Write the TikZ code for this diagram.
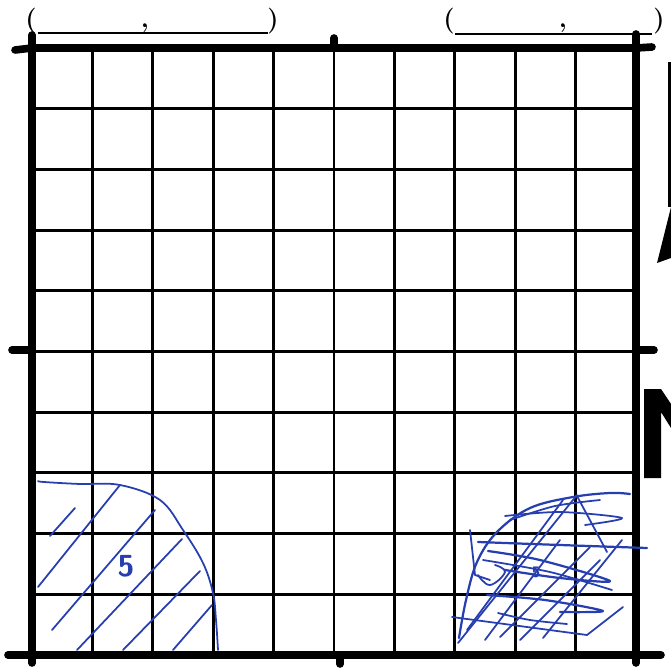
\documentclass[tikz,border=0pt]{standalone}
\usetikzlibrary{positioning}
\definecolor{penblue}{RGB}{38,62,175}
\begin{document}
\begin{tikzpicture}[x=0.03cm, y=-0.03cm,
    frame/.style   ={line width=6.5pt, line cap=round},
    gridline/.style={line width=2.5pt},
    stub/.style    ={line width=6.5pt, line cap=round},
    blank/.style   ={line width=1.8pt},
    paren/.style   ={font=\bfseries\fontsize{22}{24}\selectfont, inner sep=0pt, anchor=base},
    hatch/.style   ={draw=penblue, line width=1.5pt, line cap=round, line join=round},
    digit/.style   ={text=penblue, font=\sffamily, inner sep=0pt},
    logo/.style    ={fill=black, draw=none},
]
\useasboundingbox (0,0) rectangle (671,669);
% corners of the grid
\coordinate (tl) at (32,48);
\coordinate (tr) at (636,48);
\coordinate (bl) at (32,655);
\coordinate (br) at (636,655);
% grid lines
\foreach \i in {1,...,9} {
  \draw[gridline] ({32+60.4*\i},48) -- ({32+60.4*\i},655);
  \draw[gridline] (32,{48+60.7*\i}) -- (636,{48+60.7*\i});
}
\draw[frame] (tl) rectangle (br);
% stubs beyond the frame
\coordinate (tlw) at (15,50);   \coordinate (tln) at (32,35);
\coordinate (tmn) at (334,38);  \coordinate (tm) at (334,48);
\coordinate (trn) at (636,34);  \coordinate (tre) at (652,47);
\coordinate (lmw) at (12,350);  \coordinate (lm) at (32,350);
\coordinate (rme) at (654,350); \coordinate (rm) at (636,350);
\coordinate (blw) at (8,655);   \coordinate (bls) at (32,663);
\coordinate (bms) at (340,664); \coordinate (bm) at (340,655);
\coordinate (bre) at (661,655); \coordinate (brs) at (636,663);
\draw[stub] (tl) -- (tlw);
\draw[stub] (tl) -- (tln);
\draw[stub] (tm) -- (tmn);
\draw[stub] (tr) -- (trn);
\draw[stub] (tr) -- (tre);
\draw[stub] (lm) -- (lmw);
\draw[stub] (rm) -- (rme);
\draw[stub] (bl) -- (blw);
\draw[stub] (bl) -- (bls);
\draw[stub] (bm) -- (bms);
\draw[stub] (br) -- (bre);
\draw[stub] (br) -- (brs);
% coordinate blanks on top
\node[paren] (lopen)  at (31,27)  {(};
\node[paren] (lcomma) at (145,27) {,};
\node[paren] (lclose) at (273,27) {)};
\coordinate (lu1) at (38,33);  \coordinate (lu2) at (268,33);
\draw[blank] (lu1) -- (lu2);
\node[paren] (ropen)  at (449,27) {(};
\node[paren] (rcomma) at (563,27) {,};
\node[paren] (rclose) at (659,27) {)};
\coordinate (ru1) at (455,34); \coordinate (ru2) at (652,34);
\draw[blank] (ru1) -- (ru2);
% north arrow, cut at the edge
\fill[logo] (668,62) rectangle (671,207);
\fill[logo] (657,263) -- (671,207) -- (671,258) -- cycle;
\fill[logo] (644,389) -- (661,389) -- (671,404) -- (671,428) -- (661,412) -- (661,478) -- (644,478) -- cycle;
% hatched quarter, bottom left
\draw[hatch] plot[smooth, tension=0.6] coordinates {(38,481) (44,482) (80,484) (120,485) (160,500) (183,530) (203,563) (213,593) (216,620) (218,650)};
\draw[hatch] (50,536) -- (75,508);
\draw[hatch] (38,587) -- (120,485);
\draw[hatch] (52,630) -- (155,510);
\draw[hatch] (77,650) -- (182,539);
\draw[hatch] (123,650) -- (200,571);
\draw[hatch] (173,650) -- (212,605);
\node[digit, font=\sffamily\bfseries\fontsize{26}{26}\selectfont] (numa) at (126,566) {5};
% scribbled patch, bottom right
\draw[hatch, line width=1.9pt] plot[smooth, tension=0.6] coordinates {(459,638) (466,600) (477,562) (497,532) (530,508) (573,497) (610,493) (630,494)};
\draw[hatch] plot[smooth, tension=0.5] coordinates {(505,516) (560,512) (622,518) (585,525)};
\draw[hatch] plot[smooth, tension=0.5] coordinates {(510,520) (555,506) (600,500)};
\draw[hatch, line width=1.9pt] plot[smooth, tension=0.5] coordinates {(478,542) (560,545) (647,548)};
\draw[hatch, line width=1.9pt] plot[smooth, tension=0.5] coordinates {(488,551) (540,560) (610,581) (560,578) (505,570)};
\draw[hatch] plot[smooth, tension=0.5] coordinates {(483,560) (550,572) (612,590)};
\draw[hatch, line width=1.9pt] plot[smooth, tension=0.5] coordinates {(487,595) (545,600) (603,611) (560,612)};
\draw[hatch] plot[smooth, tension=0.5] coordinates {(498,613) (530,620) (567,624)};
\draw[hatch] (452,617) -- (587,635) -- (623,607);
\draw[hatch] (458,643) -- (577,495);
\draw[hatch] (467,630) -- (563,500);
\draw[hatch] (485,640) -- (560,540);
\draw[hatch] (500,637) -- (590,547);
\draw[hatch] (520,640) -- (600,560);
\draw[hatch] (543,638) -- (622,540);
\draw[hatch] (577,496) -- (607,552);
\draw[hatch] (470,530) -- (475,575) -- (490,580);
\draw[hatch] plot[smooth, tension=0.7] coordinates {(478,575) (490,585) (505,572) (495,565)};
\node[digit, font=\sffamily\bfseries\fontsize{13}{13}\selectfont] (numb) at (536,572) {5};
\end{tikzpicture}
\end{document}
